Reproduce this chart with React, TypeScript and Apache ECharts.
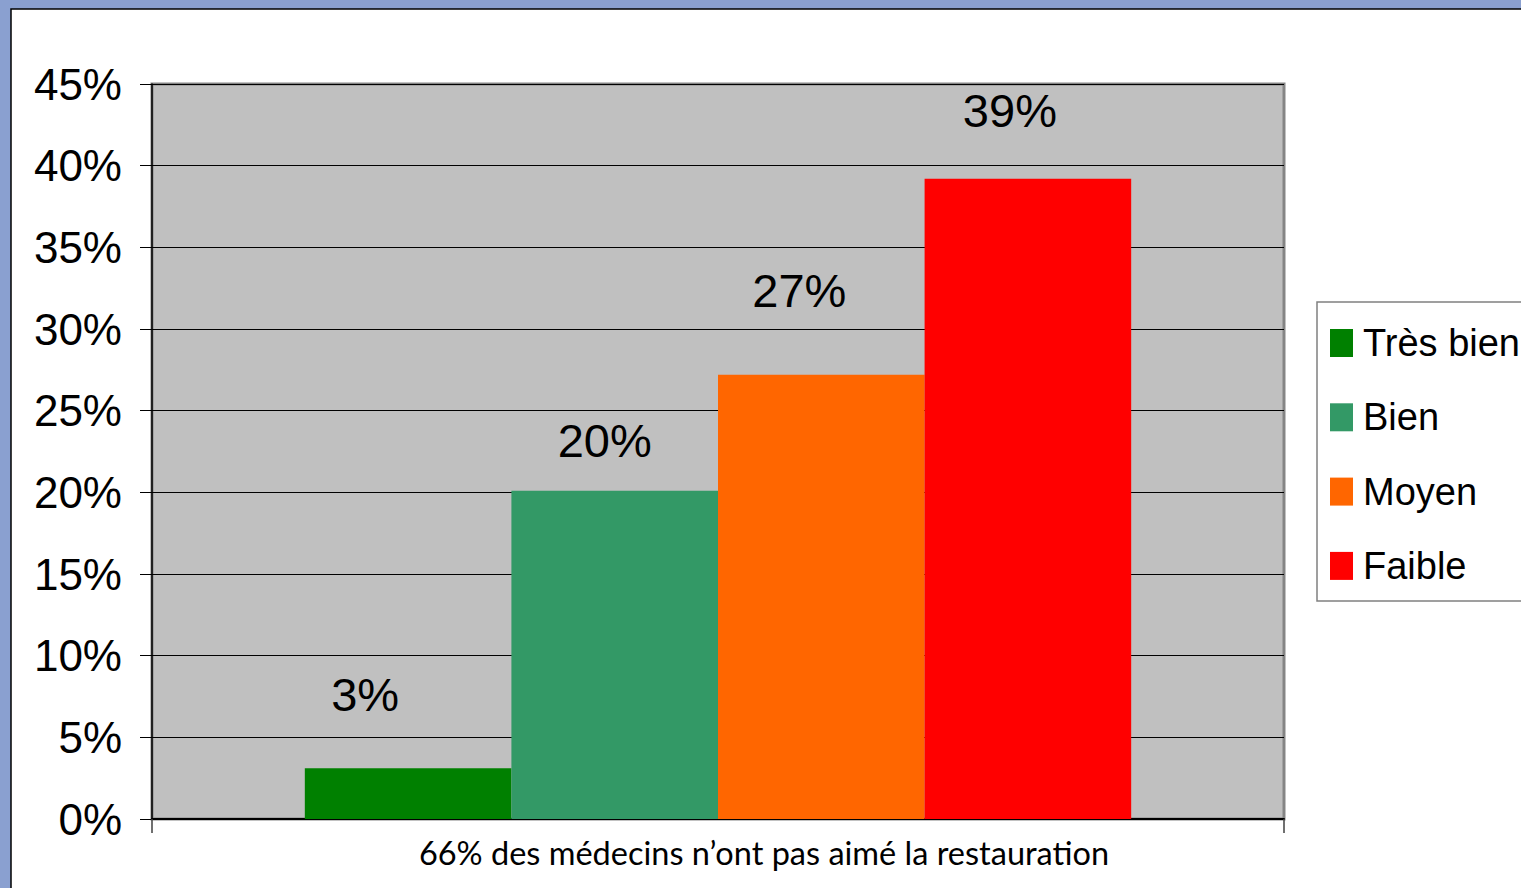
import React, { useEffect, useRef } from "react";
import * as echarts from "echarts";

const categories = ["66% des médecins n’ont pas aimé la restauration"];
const seriesNames = ["Très bien", "Bien", "Moyen", "Faible"];
const seriesValues = [3.1, 20.1, 27.2, 39.2];
const yTicks = { min: 0, max: 45, interval: 5 };

const seriesColors = ["#008000", "#339966", "#ff6600", "#ff0000"];
const labelOffsets = [
  [-43, -45],
  [-10, -22],
  [-22, -56],
  [-18, -40],
];

export default function App() {
  const ref = useRef<HTMLDivElement>(null);
  useEffect(() => {
    if (!ref.current) return;
    const chart = echarts.init(ref.current, null, { renderer: "svg" });
    const sans = "'Liberation Sans', Arial, sans-serif";
    chart.setOption({
      animation: false,
      backgroundColor: "#8aa0d0",
      graphic: [
        {
          type: "rect",
          z: -10,
          silent: true,
          shape: { x: 11, y: 9, width: 1530, height: 900 },
          style: { fill: "#ffffff", stroke: "#000000", lineWidth: 1.5 },
        },
      ],
      grid: {
        left: 152,
        top: 84,
        right: 237,
        bottom: 69,
        show: true,
        backgroundColor: "#c0c0c0",
        borderColor: "#858585",
        borderWidth: 3,
        z: 0,
      },
      legend: {
        orient: "vertical",
        left: 1317,
        top: 302,
        data: seriesNames,
        icon: "rect",
        itemWidth: 23,
        itemHeight: 28,
        itemGap: 28.3,
        padding: [18, 12, 12, 13],
        backgroundColor: "#ffffff",
        borderColor: "#808080",
        borderWidth: 1.5,
        textStyle: {
          fontFamily: sans,
          fontSize: 38,
          lineHeight: 46,
          color: "#000000",
          padding: [0, 0, 0, 5],
        },
      },
      xAxis: {
        type: "category",
        data: categories,
        boundaryGap: true,
        axisLine: { lineStyle: { color: "#000000", width: 2 } },
        axisTick: { show: true, length: 14, lineStyle: { color: "#404040", width: 1.5 } },
        axisLabel: {
          fontFamily: "Lato, 'Open Sans', sans-serif",
          fontSize: 32.5,
          color: "#000000",
          margin: 17,
          padding: [0, 0, 0, 92],
        },
      },
      yAxis: {
        type: "value",
        min: yTicks.min,
        max: yTicks.max,
        interval: yTicks.interval,
        axisLine: { show: true, lineStyle: { color: "#000000", width: 1.5 } },
        axisTick: { show: true, length: 12, lineStyle: { color: "#000000", width: 1 } },
        splitLine: { show: true, lineStyle: { color: "#000000", width: 1 } },
        axisLabel: {
          formatter: "{value}%",
          fontFamily: sans,
          fontSize: 44,
          color: "#000000",
          margin: 30,
        },
      },
      series: seriesNames.map((name, i) => ({
        name,
        type: "bar",
        data: [seriesValues[i]],
        barGap: "0%",
        barCategoryGap: "27%",
        itemStyle: { color: seriesColors[i] },
        label: {
          show: true,
          position: "top",
          distance: 5,
          offset: labelOffsets[i],
          formatter: (p: any) => Math.round(p.value) + "%",
          fontFamily: sans,
          fontSize: 47,
          color: "#000000",
        },
      })),
    });
    return () => chart.dispose();
  }, []);
  return (
    <div
      ref={ref}
      style={{ position: "fixed", left: 0, top: 0, width: 1521, height: 888 }}
    />
  );
}
